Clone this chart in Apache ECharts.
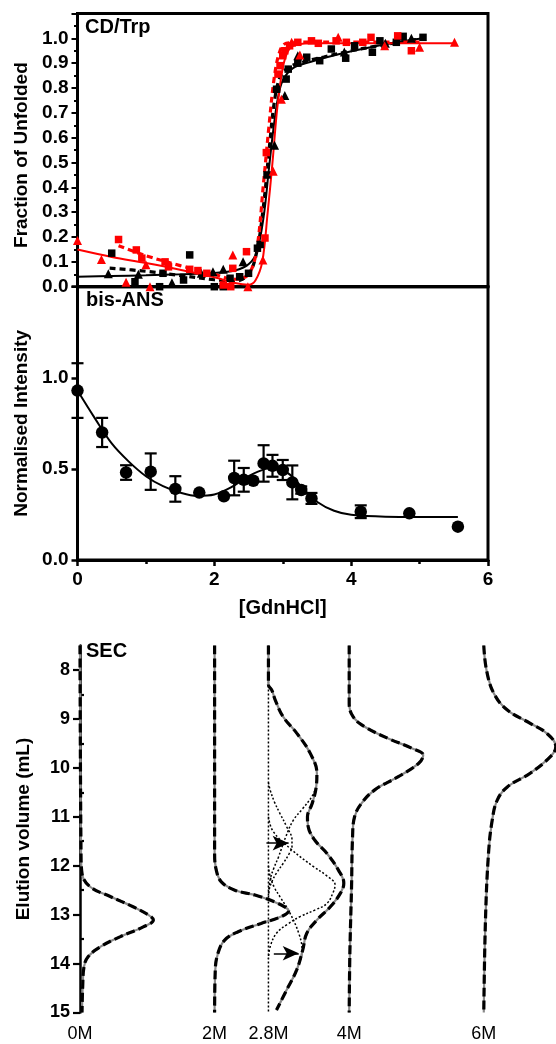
<!DOCTYPE html>
<html>
<head>
<meta charset="utf-8">
<script src="https://cdn.jsdelivr.net/npm/echarts@6/dist/echarts.min.js"></script>
<style>
html,body{margin:0;padding:0;background:#fff;}
#chart{width:556px;height:1044px;}
</style>
</head>
<body>
<div id="chart"></div>
<script>
// ---------- Panel 1: CD/Trp (fraction unfolded vs [GdnHCl]) ----------
const blackSquares = [[0.5,0.135],[0.84,0.02],[1.2,0.0],[1.25,0.054],[1.55,0.027],[1.64,0.128],[2.0,0.0],[2.13,0.0],[2.23,0.034],[2.37,0.04],[2.5,0.054],[2.63,0.155],[2.67,0.17],[2.77,0.45],[2.91,0.795],[3.05,0.836],[3.08,0.876],[3.22,0.9],[3.35,0.924],[3.54,0.91],[3.71,0.957],[3.92,0.92],[4.05,0.97],[4.31,0.944],[4.42,0.99],[4.66,0.984],[4.76,1.008],[5.05,1.004]];
const blackTriangles = [[0.45,0.052],[0.89,0.05],[1.38,0.016],[1.81,0.054],[1.98,0.06],[2.13,0.07],[2.42,0.1],[2.88,0.57],[3.03,0.77],[3.22,0.93],[3.9,0.945],[4.5,0.98],[4.88,1.0]];
const redSquares = [[0.6,0.19],[0.86,0.148],[0.94,0.115],[1.28,0.1],[1.33,0.08],[1.64,0.07],[1.76,0.065],[1.89,0.054],[2.13,0.007],[2.24,0.0],[2.27,0.074],[2.47,0.141],[2.74,0.196],[2.76,0.54],[2.93,0.856],[2.96,0.89],[3.0,0.93],[3.03,0.95],[3.1,0.97],[3.22,0.984],[3.42,0.99],[3.52,0.98],[3.78,0.99],[3.93,0.984],[4.17,0.984],[4.29,1.004],[4.68,1.01],[4.88,0.95]];
const redTriangles = [[0,0.186],[0.35,0.11],[0.71,0.018],[1.0,0.088],[1.06,0.0],[2.27,0.128],[2.49,0.0],[2.71,0.108],[2.86,0.465],[2.98,0.755],[3.13,0.984],[3.25,0.933],[3.81,1.004],[4.49,0.97],[5.0,0.964],[5.51,0.984]];
const blackSolidFit = [[0,0.04],[0.5,0.043],[1.0,0.046],[1.5,0.05],[2.0,0.055],[2.3,0.065],[2.5,0.09],[2.62,0.14],[2.72,0.28],[2.8,0.48],[2.87,0.65],[2.93,0.76],[3.0,0.83],[3.15,0.88],[3.4,0.905],[3.8,0.935],[4.3,0.965],[4.8,0.99],[5.05,1.0]];
const blackDashFit = [[0.47,0.075],[1.0,0.062],[1.5,0.045],[2.0,0.028],[2.3,0.022],[2.5,0.05],[2.62,0.14],[2.72,0.33],[2.8,0.55],[2.88,0.75],[2.97,0.85],[3.1,0.885],[3.3,0.905],[3.6,0.925],[4.0,0.95],[4.5,0.975],[5.05,1.0]];
const redSolidFit = [[0,0.15],[0.5,0.12],[1.0,0.095],[1.5,0.068],[2.0,0.038],[2.3,0.015],[2.5,0.008],[2.6,0.025],[2.7,0.1],[2.78,0.3],[2.85,0.5],[2.92,0.72],[3.0,0.88],[3.08,0.95],[3.2,0.975],[3.5,0.98],[5.51,0.98]];
const redDashFit = [[0.6,0.165],[1.0,0.125],[1.5,0.085],[2.0,0.05],[2.3,0.03],[2.5,0.05],[2.62,0.15],[2.72,0.42],[2.8,0.65],[2.88,0.85],[2.96,0.95],[3.05,0.98],[3.3,0.985],[5.0,0.985]];

// ---------- Panel 2: bis-ANS ----------
const ansX = [0,0.36,0.71,1.07,1.43,1.78,2.14,2.29,2.43,2.57,2.72,2.85,3.0,3.14,3.27,3.42,4.14,4.85,5.56];
const ansY = [0.93,0.70,0.48,0.485,0.39,0.37,0.35,0.45,0.44,0.435,0.53,0.517,0.494,0.426,0.384,0.338,0.265,0.256,0.183];
const ansErr = [0.15,0.08,0.04,0.10,0.07,0,0,0.095,0.065,0,0.10,0.06,0.055,0.093,0.02,0.03,0.035,0,0];
const ansFit = [[0,0.93],[0.25,0.78],[0.5,0.64],[0.75,0.54],[1.0,0.46],[1.25,0.405],[1.5,0.37],[1.75,0.352],[2.0,0.36],[2.25,0.40],[2.5,0.46],[2.75,0.50],[2.9,0.505],[3.1,0.47],[3.3,0.39],[3.5,0.32],[3.75,0.27],[4.0,0.248],[4.5,0.238],[5.56,0.236]];

// ---------- Panel 3: SEC (elution volume, intensity offset by [GdnHCl]) ----------
const secConc = [0, 2, 2.8, 4, 6];
const secLabels = [0, 2, 2.8, 4, 6];
const secVolTicks = [8,9,10,11,12,13,14,15];
const secVolMinorTicks = [8.5,9.5,10.5,11.5,12.5,13.5,14.5];
// [elution volume mL, normalised absorbance]
const sec0M = [[7.5,0],[11.75,0.015],[12.16,0.03],[12.43,0.15],[12.63,0.45],[12.84,0.79],[13.01,1.02],[13.11,1.09],[13.25,0.94],[13.45,0.6],[13.66,0.3],[13.86,0.12],[14.06,0.06],[14.47,0.04],[15,0.03]];
const sec2M = [[7.5,0],[11.75,0],[12.09,0.025],[12.33,0.1],[12.5,0.3],[12.6,0.6],[12.74,0.89],[12.84,1.04],[12.92,1.10],[13.04,0.99],[13.18,0.69],[13.35,0.35],[13.52,0.15],[13.79,0.05],[14.13,0.01],[15,0]];
const sec28M = [[7.5,0],[8.3,0],[8.41,0.05],[8.61,0.1],[8.96,0.22],[9.29,0.42],[9.7,0.62],[10.11,0.72],[10.39,0.71],[10.73,0.65],[11.0,0.58],[11.2,0.59],[11.48,0.69],[11.75,0.87],[12.09,1.04],[12.36,1.12],[12.56,1.07],[12.84,0.92],[13.11,0.72],[13.38,0.57],[13.72,0.51],[14.13,0.42],[14.54,0.27],[14.95,0.12]];
const sec4M = [[7.5,0],[8.68,0],[8.96,0.06],[9.16,0.23],[9.4,0.58],[9.6,0.93],[9.74,1.1],[9.91,1.03],[10.18,0.73],[10.45,0.38],[10.73,0.18],[11.0,0.08],[11.41,0.05],[12.43,0.035],[13.79,0.01],[15,0]];
const sec6M = [[7.5,0],[8.0,0.04],[8.48,0.15],[8.82,0.35],[9.09,0.69],[9.3,0.94],[9.57,1.07],[9.77,0.99],[10.11,0.69],[10.39,0.35],[10.66,0.2],[11.07,0.125],[11.75,0.07],[13.11,0.025],[15,0]];
// deconvoluted components of 2.8M trace
const comp28A = [[10.39,0.71],[10.59,0.645],[10.85,0.5],[11.07,0.37],[11.4,0.26],[11.82,0.15],[12.05,0.08],[12.29,0.025],[12.6,0]];
const comp28B = [[10.3,0],[10.45,0.025],[10.7,0.09],[10.93,0.17],[11.2,0.27],[11.47,0.35],[11.6,0.35],[11.75,0.31],[11.95,0.22],[12.15,0.12],[12.3,0.06],[12.5,0.01],[12.7,0]];
const comp28C = [[11.0,0],[11.3,0.07],[11.68,0.35],[12.02,0.67],[12.2,0.86],[12.39,0.99],[12.55,0.96],[12.77,0.87],[12.9,0.7],[13.04,0.47],[13.2,0.28],[13.38,0.12],[13.66,0.025],[13.9,0]];
const comp28D = [[12.0,0],[12.22,0.025],[12.45,0.09],[12.63,0.17],[12.97,0.32],[13.38,0.45],[13.72,0.5],[14.13,0.42],[14.54,0.27],[14.95,0.12]];
// arrows: [volume, fromOffset, toOffset]
const secArrows = [[11.54,-0.03,0.30],[13.79,0.08,0.45]];

const FONT = '"Liberation Sans", Arial, sans-serif';
const chart = echarts.init(document.getElementById('chart'), null, {renderer:'canvas'});

function toSec(c, arr){ return arr.map(p => [c + p[1], p[0]]); }

const series = [];
// Panel 1 lines
const p1 = {xAxisIndex:0, yAxisIndex:0, type:'line', showSymbol:false, symbol:'none', smooth:0.35, z:3};
series.push(Object.assign({}, p1, {data:blackSolidFit, lineStyle:{color:'#000', width:2}}));
series.push(Object.assign({}, p1, {data:blackDashFit, lineStyle:{color:'#000', width:3.2, type:[6,4]}}));
series.push(Object.assign({}, p1, {data:redSolidFit, lineStyle:{color:'#ff0000', width:2}}));
series.push(Object.assign({}, p1, {data:redDashFit, lineStyle:{color:'#ff0000', width:3.2, type:[6,4]}}));
// Panel 1 points
const p1s = {xAxisIndex:0, yAxisIndex:0, type:'scatter', z:4};
series.push(Object.assign({}, p1s, {data:blackTriangles, symbol:'triangle', symbolSize:9, itemStyle:{color:'#000', opacity:1}}));
series.push(Object.assign({}, p1s, {data:blackSquares, symbol:'rect', symbolSize:7.5, itemStyle:{color:'#000', opacity:1}}));
series.push(Object.assign({}, p1s, {data:redTriangles, symbol:'triangle', symbolSize:9, itemStyle:{color:'#ff0000', opacity:1}}));
series.push(Object.assign({}, p1s, {data:redSquares, symbol:'rect', symbolSize:7.5, itemStyle:{color:'#ff0000', opacity:1}}));

// Panel 2
series.push({type:'line', xAxisIndex:1, yAxisIndex:1, data:ansFit, smooth:0.35, showSymbol:false, symbol:'none', lineStyle:{color:'#000', width:2}, z:3});
const errData = [];
ansX.forEach((x,i)=>{ if(ansErr[i]>0) errData.push([x, ansY[i]-ansErr[i], ansY[i]+ansErr[i]]); });
series.push({type:'custom', xAxisIndex:1, yAxisIndex:1, data:errData, encode:{x:0, y:[1,2]}, z:4, clip:false,
  renderItem:function(params, api){
    const x = api.value(0);
    const a = api.coord([x, api.value(2)]);
    const b = api.coord([x, api.value(1)]);
    const w = 6;
    const st = {stroke:'#000', lineWidth:2.2};
    return {type:'group', children:[
      {type:'line', shape:{x1:a[0], y1:a[1], x2:b[0], y2:b[1]}, style:st},
      {type:'line', shape:{x1:a[0]-w, y1:a[1], x2:a[0]+w, y2:a[1]}, style:st},
      {type:'line', shape:{x1:b[0]-w, y1:b[1], x2:b[0]+w, y2:b[1]}, style:st}
    ]};
  }});
series.push({type:'scatter', xAxisIndex:1, yAxisIndex:1, data:ansX.map((x,i)=>[x, ansY[i]]), symbol:'circle', symbolSize:12.5, itemStyle:{color:'#000', opacity:1}, z:5, clip:false});

// Panel 3
const secCurves = [sec0M, sec2M, sec28M, sec4M, sec6M];
const p3 = {type:'line', xAxisIndex:2, yAxisIndex:2, showSymbol:false, symbol:'none', smooth:0.4, clip:false};
// dotted baseline and components for 2.8M
series.push(Object.assign({}, p3, {data:[[secConc[2],7.5],[secConc[2],15]], smooth:false, lineStyle:{color:'#000', width:1.5, type:[2,2]}, z:2}));
[comp28A, comp28B, comp28C, comp28D].forEach(cmp => {
  series.push(Object.assign({}, p3, {data:toSec(secConc[2], cmp), lineStyle:{color:'#000', width:1.5, type:[2,2]}, z:2}));
});
secCurves.forEach((arr, i) => {
  series.push(Object.assign({}, p3, {data:toSec(secConc[i], arr), lineStyle:{color:'#8a8a8a', width:2.2}, z:3}));
  series.push(Object.assign({}, p3, {data:toSec(secConc[i], arr), lineStyle:{color:'#000', width:3.2, type:[9,4]}, z:4}));
});
series.push({type:'line', xAxisIndex:2, yAxisIndex:2, data:[], 
  markLine:{silent:true, symbol:['none','arrow'], symbolSize:[11,16], animation:false, label:{show:false},
    lineStyle:{color:'#000', width:1.5, type:'solid'},
    data: secArrows.map(a => [{coord:[secConc[2]+a[1], a[0]]},{coord:[secConc[2]+a[2], a[0]]}])}});

const axisLineBlack = w => ({show:true, onZero:false, lineStyle:{color:'#000', width:w}});
const boldLabel = (size) => ({color:'#000', fontFamily:FONT, fontWeight:'bold', fontSize:size});

const option = {
  animation:false,
  backgroundColor:'#fff',
  textStyle:{fontFamily:FONT},
  grid:[
    {left:77.5, top:13.5, width:410.5, height:273.2, show:true, borderColor:'#000', borderWidth:3, backgroundColor:'transparent', containLabel:false},
    {left:77.5, top:286.7, width:410.5, height:273.3, show:true, borderColor:'#000', borderWidth:3, backgroundColor:'transparent', containLabel:false},
    {left:80, top:645.5, width:476, height:367, containLabel:false}
  ],
  xAxis:[
    {gridIndex:0, type:'value', min:0, max:6, axisLine:axisLineBlack(3), axisTick:{show:false}, axisLabel:{show:false}, splitLine:{show:false}},
    {gridIndex:1, type:'value', min:0, max:6, interval:2, axisLine:axisLineBlack(3),
      axisTick:{show:true, length:6, lineStyle:{color:'#000', width:2.5}},
      minorTick:{show:true, splitNumber:2, length:4, lineStyle:{color:'#000', width:2.5}},
      axisLabel:Object.assign(boldLabel(19), {margin:10}), splitLine:{show:false}, minorSplitLine:{show:false},
      name:'[GdnHCl]', nameLocation:'middle', nameGap:38, nameTextStyle:boldLabel(20)},
    {gridIndex:2, type:'value', min:0, max:7.073, axisLine:{show:false}, axisTick:{show:false}, splitLine:{show:false},
      axisLabel:{show:true, customValues:secLabels, formatter:v => v + 'M', color:'#000', fontFamily:FONT, fontSize:18, margin:13}}
  ],
  yAxis:[
    {gridIndex:0, type:'value', min:0, max:1.1, interval:0.1, axisLine:axisLineBlack(3),
      axisTick:{show:true, length:6, lineStyle:{color:'#000', width:2}},
      minorTick:{show:true, splitNumber:2, length:3.5, lineStyle:{color:'#000', width:2}},
      axisLabel:Object.assign(boldLabel(19), {margin:9, formatter:v => v > 1.05 ? '' : v.toFixed(1)}),
      splitLine:{show:false}, minorSplitLine:{show:false},
      name:'Fraction of Unfolded', nameLocation:'middle', nameGap:45, nameTextStyle:Object.assign(boldLabel(19), {padding:[0,10,0,0]})},
    {gridIndex:1, type:'value', min:0, max:1.5, interval:0.5, axisLine:axisLineBlack(3),
      axisTick:{show:true, length:6, lineStyle:{color:'#000', width:2.5}},
      axisLabel:Object.assign(boldLabel(19), {margin:9, formatter:v => v > 1.4 ? '' : v.toFixed(1)}),
      splitLine:{show:false},
      name:'Normalised Intensity', nameLocation:'middle', nameGap:46, nameTextStyle:boldLabel(19)},
    {gridIndex:2, type:'value', min:7.5, max:15, inverse:true, axisLine:axisLineBlack(2.5),
      axisTick:{show:true, customValues:secVolTicks, length:7, lineStyle:{color:'#000', width:2.2}},
      axisLabel:Object.assign(boldLabel(18), {margin:10, customValues:secVolTicks}),
      splitLine:{show:false},
      name:'Elution volume (mL)', nameLocation:'middle', nameGap:47, nameTextStyle:boldLabel(19)},
    {gridIndex:2, type:'value', min:7.5, max:15, inverse:true, axisLine:{show:false},
      axisTick:{show:true, customValues:secVolMinorTicks, length:4, lineStyle:{color:'#000', width:2.2}},
      axisLabel:{show:false}, splitLine:{show:false}}
  ],
  graphic:[
    {type:'text', left:85, top:17, style:{text:'CD/Trp', font:'bold 20px "Liberation Sans", Arial, sans-serif', fill:'#000'}},
    {type:'text', left:86, top:290, style:{text:'bis-ANS', font:'bold 20px "Liberation Sans", Arial, sans-serif', fill:'#000'}},
    {type:'text', left:86, top:641, style:{text:'SEC', font:'bold 20px "Liberation Sans", Arial, sans-serif', fill:'#000'}}
  ],
  series: series
};
chart.setOption(option);
</script>
</body>
</html>
